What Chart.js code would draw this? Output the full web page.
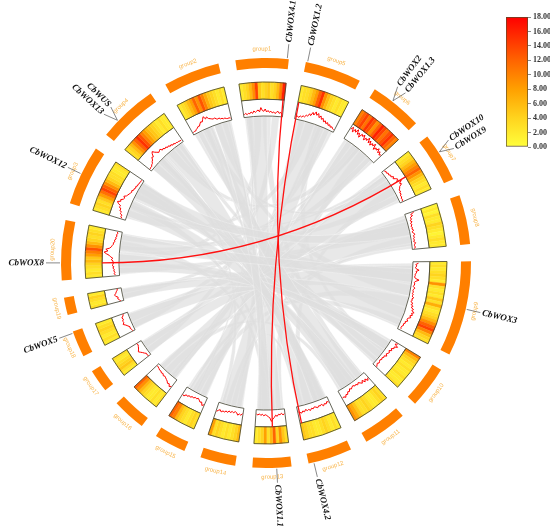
<!DOCTYPE html>
<html lang="en">
<head>
<meta charset="UTF-8">
<title>WOX circos</title>
<script src="https://cdn.jsdelivr.net/npm/chart.js"></script>
<style>
  body { margin: 0; background: #fff; }
  #wrap { position: relative; width: 550px; height: 532px; }
  #circos { position: absolute; left: 0; top: 0; }
  #scale { position: absolute; left: 500px; top: 8px; }
</style>
</head>
<body>
<div id="wrap">
  <canvas id="circos" width="550" height="532"></canvas>
  <canvas id="scale" width="50" height="148"></canvas>
</div>
<script>
// groups, clockwise from the top
const groupNames = ['group1','group5','group6','group7','group8','group9','group10','group11','group12','group13',
                    'group14','group15','group16','group17','group18','group19','group20','group3','group4','group2'];
const groupLength = [15, 16, 15, 14, 14, 27, 12, 12.5, 12.5, 11, 10, 9, 9.5, 6.5, 7.5, 5, 17, 17, 17, 16];
const GAP = 4.825;

// heatmap bins (0-18) per group
const heatValues = [
  [2,3,4,6,9,14,5,3,4,5,3,4,6,10,16],
  [2,3,3,4,6,8,12,15,9,6,4,3,2,3,2,2],
  [10,12,14,11,15,13,9,12,16,14,11,13,15,12,10],
  [2,3,4,6,8,10,12,9,6,4,3,2,3,2],
  [1,2,1,3,2,2,4,3,2,1,2,3,2,2],
  [2,3,2,3,4,3,2,9,3,2,3,2,5,3,7,3,2,3,4,6,9,12,14,10,6,4,3],
  [10,6,4,3,2,3,2,2,3,2,2,3],
  [3,4,3,2,2,3,4,3,3,5,7,9],
  [2,3,2,3,4,3,2,2,3,3,4,5],
  [3,5,9,4,12,6,3,8,4,3,2],
  [6,4,3,2,3,2,3,4,3,8],
  [3,4,3,2,3,4,6,10,12],
  [3,2,3,2,2,3,4,6,9,12],
  [2,3,5,4,3,2,3],
  [2,3,2,3,4,3,2],
  [3,2,3,4,2],
  [2,3,2,3,4,6,5,8,10,13,9,6,4,3,4,3,2],
  [2,3,4,3,5,8,11,14,12,9,6,4,3,3,2,2,3],
  [3,4,6,9,12,15,13,10,8,6,5,4,3,2,3,2,2],
  [2,3,4,6,8,12,9,13,10,7,5,4,3,2,3,2]
];

// gene density track (share of track height) per group
const densityValues = [
  [0.12,0.2,0.1,0.18,0.14,0.25,0.15,0.3,0.2,0.28,0.35,0.22,0.5,0.3,0.25,0.4,0.2,0.3,0.18,0.26,0.15,0.22,0.12,0.2,0.28,0.15,0.22,0.1],
  [0.1,0.16,0.08,0.2,0.15,0.25,0.2,0.35,0.3,0.5,0.4,0.65,0.5,0.75,0.55,0.7,0.45,0.6,0.4,0.5,0.3,0.4,0.25,0.35,0.2,0.28,0.15,0.22,0.12,0.1],
  [0.7,0.9,0.6,0.85,0.7,0.95,0.65,0.8,0.55,0.85,0.75,0.9,0.6,0.8,0.7,0.95,0.65,0.85,0.6,0.8,0.7,0.9,0.55,0.75,0.65,0.85,0.6,0.75,0.55,0.65],
  [0.12,0.2,0.15,0.25,0.2,0.3,0.25,0.4,0.3,0.45,0.55,0.4,0.7,0.5,0.6,0.4,0.35,0.25,0.3,0.2,0.25,0.15,0.2,0.12,0.18,0.1],
  [0.55,0.3,0.4,0.2,0.28,0.15,0.25,0.12,0.2,0.1,0.18,0.12,0.22,0.1,0.15,0.25,0.12,0.18,0.1,0.15,0.08,0.2,0.12,0.1,0.15,0.08],
  [0.3,0.12,0.2,0.1,0.15,0.35,0.15,0.2,0.1,0.12,0.08,0.15,0.4,0.2,0.1,0.15,0.12,0.08,0.2,0.12,0.1,0.15,0.1,0.18,0.12,
   0.25,0.15,0.2,0.12,0.3,0.2,0.35,0.25,0.45,0.35,0.55,0.4,0.5,0.35,0.45,0.3,0.25,0.35,0.2,0.25,0.15,0.2,0.12,0.1,0.15],
  [0.45,0.3,0.55,0.35,0.4,0.25,0.35,0.2,0.3,0.25,0.18,0.3,0.15,0.2,0.12,0.18,0.1,0.15,0.2,0.12,0.18,0.25],
  [0.35,0.5,0.3,0.45,0.25,0.4,0.3,0.2,0.3,0.2,0.25,0.15,0.2,0.28,0.2,0.35,0.3,0.45,0.4,0.55,0.45,0.5],
  [0.3,0.22,0.35,0.28,0.4,0.25,0.32,0.28,0.38,0.3,0.25,0.35,0.28,0.4,0.3,0.35,0.25,0.38,0.3,0.42,0.35,0.3],
  [0.25,0.32,0.2,0.3,0.25,0.38,0.3,0.45,0.55,0.7,0.45,0.38,0.3,0.25,0.32,0.22,0.3,0.2,0.28,0.22],
  [0.3,0.42,0.35,0.45,0.3,0.25,0.35,0.28,0.38,0.3,0.42,0.35,0.45,0.4,0.5,0.38,0.45,0.55],
  [0.45,0.55,0.35,0.4,0.3,0.22,0.3,0.25,0.35,0.3,0.4,0.35,0.45,0.4,0.55,0.5],
  [0.5,0.6,0.45,0.5,0.4,0.35,0.3,0.25,0.3,0.2,0.25,0.18,0.2,0.15,0.12,0.1],
  [0.1,0.15,0.12,0.22,0.3,0.4,0.5,0.42,0.35,0.3,0.25,0.3],
  [0.1,0.12,0.18,0.15,0.25,0.35,0.5,0.4,0.45,0.35,0.42,0.3,0.25],
  [0.15,0.2,0.3,0.25,0.4,0.45,0.35,0.3,0.22,0.2],
  [0.2,0.28,0.22,0.3,0.25,0.35,0.28,0.4,0.3,0.38,0.32,0.45,0.35,0.5,0.6,0.8,0.95,0.7,0.85,0.6,0.5,0.45,0.38,0.4,0.3,0.35,0.25,0.3,0.22,0.28,0.2,0.25],
  [0.2,0.3,0.25,0.4,0.35,0.5,0.45,0.6,0.55,0.75,0.85,0.65,0.7,0.55,0.5,0.6,0.45,0.4,0.35,0.3,0.25,0.3,0.2,0.22,0.15,0.2,0.12,0.15,0.1,0.12,0.08,0.1],
  [0.08,0.12,0.1,0.18,0.2,0.3,0.35,0.5,0.45,0.65,0.75,0.6,0.5,0.4,0.45,0.5,0.35,0.4,0.3,0.35,0.25,0.3,0.2,0.25,0.15,0.2,0.12,0.15,0.1,0.12,0.08,0.1],
  [0.08,0.12,0.1,0.18,0.22,0.3,0.28,0.4,0.5,0.45,0.6,0.75,0.55,0.65,0.5,0.45,0.4,0.35,0.4,0.3,0.25,0.3,0.2,0.22,0.15,0.18,0.12,0.1,0.12,0.08]
];

// WOX genes: group (1-based) and position inside the group (0-1)
const geneNames = ['CbWOX4.1','CbWOX1.2','CbWOX2','CbWOX1.3','CbWOX10','CbWOX9','CbWOX3',
                   'CbWOX4.2','CbWOX1.1','CbWOX5','CbWOX8','CbWOX12','CbWOX13','CbWUS'];
const geneGroup = [1, 2, 3, 3, 4, 4, 6, 9, 10, 15, 17, 18, 19, 19];
const genePos = [0.97, 0.03, 0.4, 0.4, 0.39, 0.39, 0.5, 0.88, 0.38, 0.94, 0.29, 0.52, 0.3, 0.3];

// segmental duplicated WOX pairs [groupA, posA, groupB, posB]
const woxPairs = [[1, 0.97, 9, 0.96], [2, 0.02, 10, 0.45], [17, 0.29, 4, 0.46]];

// collinear blocks [groupA, fromA, toA, groupB, fromB, toB]
const synteny = [
  [1,0.02,0.22,11,0.05,0.3], [1,0.25,0.45,17,0.35,0.55], [1,0.48,0.7,8,0.05,0.3], [1,0.72,0.92,14,0.05,0.45],
  [2,0.05,0.25,12,0.05,0.35], [2,0.28,0.5,18,0.05,0.25], [2,0.52,0.75,7,0.3,0.5], [2,0.78,0.98,15,0.05,0.4],
  [3,0.02,0.25,13,0.05,0.35], [3,0.28,0.5,19,0.55,0.72], [3,0.52,0.75,10,0.02,0.3], [3,0.78,0.98,16,0.05,0.5],
  [4,0.02,0.25,14,0.5,0.95], [4,0.28,0.45,20,0.25,0.42], [4,0.5,0.72,9,0.5,0.75], [4,0.75,0.98,17,0.82,0.98],
  [5,0.02,0.3,15,0.45,0.95], [5,0.32,0.6,17,0.02,0.18], [5,0.62,0.82,11,0.55,0.75], [5,0.84,0.98,12,0.8,0.98],
  [6,0.02,0.16,16,0.55,0.95], [6,0.18,0.32,18,0.5,0.68], [6,0.34,0.5,20,0.55,0.72],
  [6,0.52,0.66,12,0.4,0.75], [6,0.68,0.84,19,0.05,0.22], [6,0.86,0.98,13,0.7,0.95],
  [7,0.02,0.28,17,0.2,0.33], [7,0.52,0.75,20,0.02,0.22], [7,0.78,0.98,19,0.85,0.98],
  [8,0.32,0.55,19,0.25,0.4], [8,0.58,0.78,18,0.72,0.85], [8,0.8,0.98,13,0.38,0.66],
  [9,0.02,0.25,18,0.88,0.98], [9,0.28,0.48,20,0.75,0.88], [9,0.78,0.98,11,0.32,0.52],
  [10,0.33,0.55,18,0.28,0.46], [10,0.58,0.8,17,0.58,0.8], [10,0.83,0.98,20,0.9,0.98],
  [11,0.78,0.98,19,0.42,0.52], [19,0.74,0.83,20,0.44,0.53],
  [17,0.6,0.7,3,0.4,0.5], [18,0.3,0.4,4,0.1,0.2], [19,0.3,0.4,9,0.3,0.4],
  [20,0.3,0.4,10,0.4,0.5], [12,0.5,0.6,1,0.1,0.2], [13,0.2,0.3,2,0.6,0.7],
  [1,0.05,0.6,10,0.1,0.9], [2,0.1,0.9,11,0.1,0.9], [3,0.1,0.9,12,0.1,0.9], [4,0.1,0.9,13,0.1,0.9],
  [5,0.1,0.9,14,0.1,0.9], [6,0.05,0.5,15,0.1,0.9], [6,0.5,0.95,16,0.1,0.9], [7,0.1,0.9,18,0.55,0.95],
  [8,0.1,0.9,20,0.1,0.5], [9,0.1,0.9,19,0.5,0.95], [17,0.05,0.5,7,0.1,0.4], [18,0.1,0.5,8,0.4,0.9],
  [19,0.05,0.45,9,0.05,0.45], [20,0.55,0.95,10,0.5,0.95], [17,0.55,0.95,6,0.1,0.3], [18,0.55,0.95,5,0.2,0.6]
];

// colour scale of the heatmap
const scaleMin = 0, scaleMax = 18, scaleStep = 2;
const colorStops = [[0, [255,255,60]], [4, [255,212,30]], [8, [255,160,0]], [12, [255,100,0]], [18, [255,0,0]]];

function heatColor(v) {
  for (let i = 1; i < colorStops.length; i++) {
    const [v1, c1] = colorStops[i], [v0, c0] = colorStops[i - 1];
    if (v <= v1) {
      const t = (v - v0) / (v1 - v0);
      const c = c0.map((x, k) => Math.round(x + t * (c1[k] - x)));
      return `rgb(${c[0]},${c[1]},${c[2]})`;
    }
  }
  return 'rgb(255,0,0)';
}

// ring data
const ringData = [], ringFill = [], ringBox = [], ringBorder = [];
groupLength.forEach(l => {
  ringData.push(l, GAP);
  ringFill.push('#ff7f00', 'rgba(0,0,0,0)');
  ringBox.push('#ffffff', 'rgba(0,0,0,0)');
  ringBorder.push(0.8, 0);
});
const heatData = [], heatFill = [], heatBorder = [];
heatValues.forEach((bins, g) => {
  bins.forEach(v => {
    heatData.push(groupLength[g] / bins.length);
    heatFill.push(heatColor(v));
    heatBorder.push(0.4);
  });
  heatData.push(GAP);
  heatFill.push('rgba(0,0,0,0)');
  heatBorder.push(0);
});

function groupArc(chart, g) { return chart.getDatasetMeta(0).data[(g - 1) * 2]; }
function angleAt(chart, g, f) {
  const el = groupArc(chart, g);
  return el.startAngle + f * (el.endAngle - el.startAngle);
}
function pt(cx, cy, r, a) { return [cx + r * Math.cos(a), cy + r * Math.sin(a)]; }

const circosPlugin = {
  id: 'circos',
  beforeDatasetsDraw(chart) {
    const ctx = chart.ctx;
    const box = chart.getDatasetMeta(3).data[0];
    const cx = box.x, cy = box.y, r = box.innerRadius - 0.5;
    ctx.save();
    ctx.fillStyle = 'rgba(222,222,222,0.7)';
    ctx.strokeStyle = 'rgba(255,255,255,0.7)';
    ctx.lineWidth = 0.4;
    synteny.forEach(([ga, a0, a1, gb, b0, b1]) => {
      const A0 = angleAt(chart, ga, a0), A1 = angleAt(chart, ga, a1);
      const B0 = angleAt(chart, gb, b0), B1 = angleAt(chart, gb, b1);
      ctx.beginPath();
      ctx.arc(cx, cy, r, A0, A1);
      ctx.quadraticCurveTo(cx, cy, ...pt(cx, cy, r, B0));
      ctx.arc(cx, cy, r, B0, B1);
      ctx.quadraticCurveTo(cx, cy, ...pt(cx, cy, r, A0));
      ctx.closePath();
      ctx.fill();
      ctx.stroke();
    });
    ctx.restore();
  },
  afterDatasetsDraw(chart) {
    const ctx = chart.ctx;
    const outer = chart.getDatasetMeta(0).data[0];
    const heat = chart.getDatasetMeta(2).data[0];
    const box = chart.getDatasetMeta(3).data[0];
    const cx = box.x, cy = box.y;
    ctx.save();

    // heatmap outlines
    ctx.strokeStyle = '#3d3d2d';
    ctx.lineWidth = 0.8;
    groupLength.forEach((l, i) => {
      const el = groupArc(chart, i + 1);
      ctx.beginPath();
      ctx.arc(cx, cy, heat.outerRadius, el.startAngle, el.endAngle);
      ctx.arc(cx, cy, heat.innerRadius, el.endAngle, el.startAngle, true);
      ctx.closePath();
      ctx.stroke();
    });

    // density lines
    ctx.strokeStyle = '#ff0000';
    ctx.lineWidth = 1;
    const h = box.outerRadius - box.innerRadius - 2;
    densityValues.forEach((vals, i) => {
      const el = groupArc(chart, i + 1);
      const span = el.endAngle - el.startAngle;
      ctx.beginPath();
      vals.forEach((v, k) => {
        const a = el.startAngle + span * (0.02 + 0.96 * k / (vals.length - 1));
        const [x, y] = pt(cx, cy, box.innerRadius + 1 + v * h, a);
        k ? ctx.lineTo(x, y) : ctx.moveTo(x, y);
      });
      ctx.stroke();
    });

    // duplicated WOX pairs
    ctx.strokeStyle = '#ff1010';
    ctx.lineWidth = 1.3;
    woxPairs.forEach(([ga, fa, gb, fb]) => {
      const p0 = pt(cx, cy, box.outerRadius, angleAt(chart, ga, fa));
      const p1 = pt(cx, cy, box.outerRadius, angleAt(chart, gb, fb));
      ctx.beginPath();
      ctx.moveTo(...p0);
      ctx.quadraticCurveTo(cx, cy, ...p1);
      ctx.stroke();
    });

    // group names
    ctx.fillStyle = '#f8b54c';
    ctx.font = '6px "Liberation Sans"';
    ctx.textAlign = 'center';
    ctx.textBaseline = 'middle';
    groupNames.forEach((name, i) => {
      const el = groupArc(chart, i + 1);
      const a = (el.startAngle + el.endAngle) / 2;
      const deg = ((a * 180 / Math.PI + 90) % 360 + 360) % 360;
      ctx.save();
      ctx.translate(...pt(cx, cy, outer.outerRadius + 9, a));
      ctx.rotate(deg > 90 && deg < 270 ? a - Math.PI / 2 : a + Math.PI / 2);
      ctx.fillText(name, 0, 0);
      ctx.restore();
    });

    // gene labels
    ctx.fillStyle = '#111';
    ctx.strokeStyle = '#555';
    ctx.lineWidth = 0.7;
    ctx.font = 'italic bold 9px "Liberation Serif"';
    const r0 = outer.outerRadius + 1, r1 = outer.outerRadius + 15;
    geneNames.forEach((name, i) => {
      const same = geneNames.map((n, j) => j).filter(j => geneGroup[j] === geneGroup[i] && genePos[j] === genePos[i]);
      const k = same.indexOf(i);
      const anchor = angleAt(chart, geneGroup[i], genePos[i]);
      const a = anchor + (k - (same.length - 1) / 2) * 2.6 * Math.PI / 180;
      ctx.beginPath();
      ctx.moveTo(...pt(cx, cy, r0, anchor));
      ctx.lineTo(...pt(cx, cy, r1, a));
      ctx.stroke();
      const deg = ((a * 180 / Math.PI + 90) % 360 + 360) % 360;
      ctx.save();
      ctx.translate(cx, cy);
      if (deg < 180) {
        ctx.rotate(a);
        ctx.textAlign = 'left';
        ctx.fillText(name, r1 + 2, 0);
      } else {
        ctx.rotate(a + Math.PI);
        ctx.textAlign = 'right';
        ctx.fillText(name, -(r1 + 2), 0);
      }
      ctx.restore();
    });
    ctx.restore();
  }
};

new Chart(document.getElementById('circos'), {
  type: 'doughnut',
  data: {
    labels: ringData.map((v, i) => i),
    datasets: [
      { data: ringData, backgroundColor: ringFill, borderWidth: 0, weight: 10 },
      { data: [1], backgroundColor: ['rgba(0,0,0,0)'], borderWidth: 0, weight: 14 },
      { data: heatData, backgroundColor: heatFill, borderColor: heatFill, borderWidth: heatBorder, weight: 17 },
      { data: ringData, backgroundColor: ringBox, borderColor: '#3d3d2d', borderWidth: ringBorder, weight: 17 }
    ]
  },
  options: {
    responsive: false,
    animation: false,
    events: [],
    rotation: -8.6,
    cutout: 147,
    hoverOffset: 0,
    spacing: 0,
    layout: { padding: { left: 61, right: 79, top: 58, bottom: 64 } },
    plugins: { legend: { display: false }, tooltip: { enabled: false } }
  },
  plugins: [circosPlugin]
});

// colour key
new Chart(document.getElementById('scale'), {
  type: 'bar',
  data: {
    labels: [''],
    datasets: [{
      data: [[scaleMin, scaleMax]],
      backgroundColor(c) {
        const area = c.chart.chartArea;
        if (!area) return '#ff0';
        const g = c.chart.ctx.createLinearGradient(0, area.bottom, 0, area.top);
        colorStops.forEach(([v]) => g.addColorStop((v - scaleMin) / (scaleMax - scaleMin), heatColor(v)));
        return g;
      },
      borderColor: '#5a4a2a',
      borderWidth: 1,
      borderSkipped: false,
      barPercentage: 1,
      categoryPercentage: 1
    }]
  },
  options: {
    responsive: false,
    animation: false,
    events: [],
    layout: { padding: { left: 6, top: 9, bottom: 9, right: 0 } },
    plugins: { legend: { display: false }, tooltip: { enabled: false } },
    scales: {
      x: { display: false },
      y: {
        position: 'right',
        min: scaleMin,
        max: scaleMax,
        ticks: {
          stepSize: scaleStep,
          padding: 2,
          color: '#333',
          font: { family: 'Liberation Serif', size: 8, weight: 'bold' },
          callback: v => v.toFixed(2)
        },
        grid: { drawOnChartArea: false, tickLength: 3, color: '#888' },
        border: { display: false }
      }
    }
  }
});
</script>
</body>
</html>
